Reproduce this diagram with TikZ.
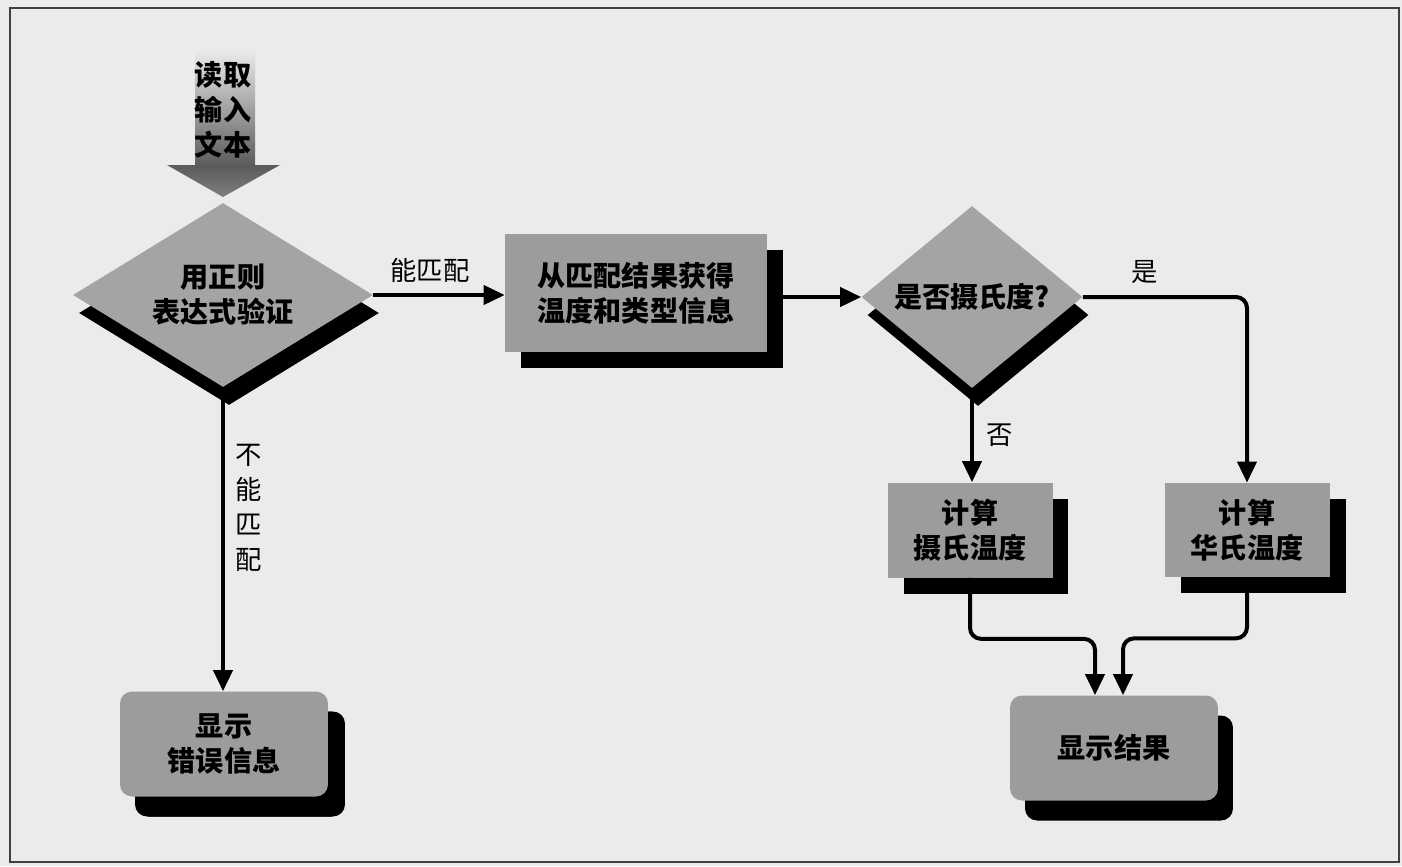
\documentclass[tikz,border=0pt]{standalone}
\usepackage{fontspec}
\newfontfamily\cjk{Noto Sans CJK SC}
\usetikzlibrary{shapes.geometric,shadows,arrows.meta}
\definecolor{bg}{HTML}{EBEBEB}
\definecolor{boxgray}{HTML}{9C9C9C}
\definecolor{dmgray}{HTML}{A4A4A4}
\definecolor{framec}{HTML}{404040}
\definecolor{arrowdark}{HTML}{5A5A5A}
\begin{document}
\begin{tikzpicture}[x=0.02cm,y=-0.02cm,
  boxtxt/.style={font=\cjk\bfseries\fontsize{16pt}{20pt}\selectfont, align=center},
  lbl/.style={font=\cjk\fontsize{15pt}{20pt}\selectfont, align=center, inner sep=0pt},
  sq/.style={rectangle, fill=boxgray, inner sep=0pt, boxtxt,
    drop shadow={shadow xshift=0.32cm, shadow yshift=-0.32cm, fill=black, opacity=1}},
  rbox/.style={rectangle, rounded corners=0.24cm, fill=boxgray, inner sep=0pt, boxtxt,
    drop shadow={shadow xshift=0.3cm, shadow yshift=-0.4cm, fill=black, opacity=1}},
  dm/.style={diamond, fill=dmgray, inner sep=0pt,
    drop shadow={shadow xshift=0.12cm, shadow yshift=-0.36cm, fill=black, opacity=1}},
  conn/.style={line width=0.08cm, -{Triangle[length=0.42cm,width=0.38cm]}, rounded corners=0.22cm}
]
\fill[bg] (0,0) rectangle (1402,866);
\useasboundingbox (0,0) rectangle (1402,866);
\draw[framec, line width=0.04cm] (10,8) rectangle (1399,862);

% input fat arrow
\shade[top color=bg, bottom color=arrowdark] (195,50) -- (255,50) -- (255,166) -- (195,166) -- cycle;
\shade[top color=arrowdark, bottom color=gray] (167,165) -- (280,165) -- (223,197) -- cycle;
\node[boxtxt, inner sep=0pt] (in) at (223,110) {读取\\输入\\文本};

% nodes
\node[dm, minimum width=6.0cm, minimum height=3.68cm] (d1) at (223,295) {};
\node[boxtxt] (d1t) at (d1) {用正则\\表达式验证};

\node[sq, minimum width=5.24cm, minimum height=2.38cm] (b2) at (636,293) {从匹配结果获得\\温度和类型信息};

\node[dm, minimum width=4.42cm, minimum height=3.64cm] (d2) at (972,297) {};
\node[boxtxt] (d2t) at (d2) {是否摄氏度?};

\node[sq, minimum width=3.3cm, minimum height=1.9cm] (b3) at (970,530) {计算\\摄氏温度};
\node[sq, minimum width=3.3cm, minimum height=1.88cm] (b4) at (1247,530) {计算\\华氏温度};

\node[rbox, minimum width=4.16cm, minimum height=2.1cm] (b5) at (1114,748) {显示结果};
\node[rbox, minimum width=4.16cm, minimum height=2.1cm, drop shadow={shadow xshift=0.34cm, shadow yshift=-0.4cm, fill=black, opacity=1}] (b6) at (224,744) {显示\\错误信息};

\coordinate (b5l) at ([xshift=-0.38cm]b5.north);
\coordinate (b5r) at ([xshift=0.18cm]b5.north);

% connectors
\draw[conn] (d1.east) -- (d1.east -| b2.west);
\node[lbl] (l1) at (430,270) {能匹配};

\draw[conn] (b2.east |- d2.west) -- (d2.west);

\draw[conn] (d2.east) -| (b4.north);
\node[lbl] (l2) at (1145,272) {是};

\draw[conn] (d2.south) -- (d2.south |- b3.north);
\node[lbl] (l3) at (1000,435) {否};

\draw[conn] (b3.south) -- ++(0,61) -| (b5l);
\draw[conn] (b4.south) -- ++(0,61) -| (b5r);

\draw[conn] (d1.south) -- (d1.south |- b6.north);
\node[lbl] (l4) at (249,508) {不\\能\\匹\\配};
\end{tikzpicture}
\end{document}
